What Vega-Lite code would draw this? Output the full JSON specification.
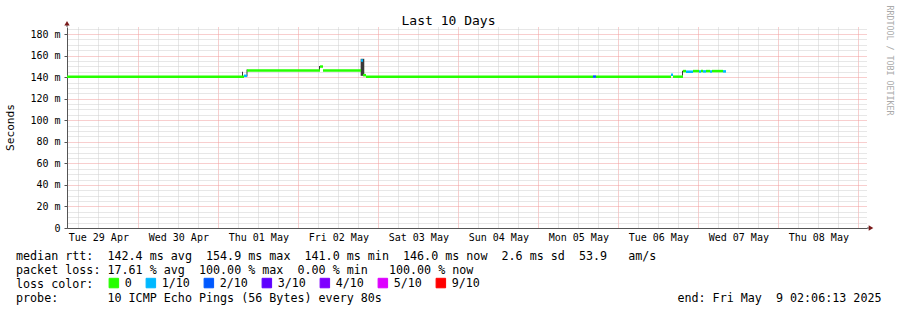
{
  "$schema": "https://vega.github.io/schema/vega-lite/v6.json",
  "width": 800,
  "height": 201,
  "autosize": {"type": "none"},
  "padding": {"left": 67, "top": 27, "right": 30, "bottom": 82},
  "background": "#ffffff",
  "config": {"view": {"stroke": null}, "font": "DejaVu Sans Mono"},
  "title": {
    "text": [
      "median\u00a0rtt:\u00a0\u00a0142.4\u00a0ms\u00a0avg\u00a0\u00a0154.9\u00a0ms\u00a0max\u00a0\u00a0141.0\u00a0ms\u00a0min\u00a0\u00a0146.0\u00a0ms\u00a0now\u00a0\u00a02.6\u00a0ms\u00a0sd\u00a0\u00a053.9\u00a0\u00a0\u00a0am/s",
      "packet\u00a0loss:\u00a017.61\u00a0%\u00a0avg\u00a0\u00a0100.00\u00a0%\u00a0max\u00a0\u00a00.00\u00a0%\u00a0min\u00a0\u00a0\u00a0100.00\u00a0%\u00a0now",
      "loss\u00a0color:",
      "probe:\u00a0\u00a0\u00a0\u00a0\u00a0\u00a0\u00a010\u00a0ICMP\u00a0Echo\u00a0Pings\u00a0(56\u00a0Bytes)\u00a0every\u00a080s\u00a0\u00a0\u00a0\u00a0\u00a0\u00a0\u00a0\u00a0\u00a0\u00a0\u00a0\u00a0\u00a0\u00a0\u00a0\u00a0\u00a0\u00a0\u00a0\u00a0\u00a0\u00a0\u00a0\u00a0\u00a0\u00a0\u00a0\u00a0\u00a0\u00a0\u00a0\u00a0\u00a0\u00a0\u00a0\u00a0\u00a0\u00a0\u00a0\u00a0\u00a0\u00a0end:\u00a0Fri\u00a0May\u00a0\u00a09\u00a002:06:13\u00a02025"
    ],
    "orient": "bottom",
    "anchor": "start",
    "frame": "group",
    "align": "left",
    "dx": -51,
    "baseline": "alphabetic",
    "lineHeight": 14,
    "offset": -30,
    "font": "DejaVu Sans Mono",
    "fontSize": 11.7,
    "fontWeight": "normal",
    "color": "#000000"
  },
  "datasets": {
    "median": [
      {"t0": "2025-04-29T02:36:00Z", "t1": "2025-05-01T07:42:00Z", "rtt": 140.4, "loss": "0"},
      {"t0": "2025-05-01T07:42:00Z", "t1": "2025-05-01T08:36:00Z", "rtt": 141.2, "loss": "1/10"},
      {"t0": "2025-05-01T08:36:00Z", "t1": "2025-05-02T06:30:00Z", "rtt": 146.1, "loss": "0"},
      {"t0": "2025-05-02T06:30:00Z", "t1": "2025-05-02T07:24:00Z", "rtt": 149.8, "loss": "0"},
      {"t0": "2025-05-02T07:24:00Z", "t1": "2025-05-02T18:48:00Z", "rtt": 146.1, "loss": "0"},
      {"t0": "2025-05-02T18:48:00Z", "t1": "2025-05-02T19:24:00Z", "rtt": 155.4, "loss": "1/10"},
      {"t0": "2025-05-02T19:24:00Z", "t1": "2025-05-02T20:18:00Z", "rtt": 141.8, "loss": "0"},
      {"t0": "2025-05-02T20:18:00Z", "t1": "2025-05-05T16:24:00Z", "rtt": 140.4, "loss": "0"},
      {"t0": "2025-05-05T16:24:00Z", "t1": "2025-05-05T17:18:00Z", "rtt": 140.5, "loss": "2/10"},
      {"t0": "2025-05-05T17:18:00Z", "t1": "2025-05-06T15:48:00Z", "rtt": 140.4, "loss": "0"},
      {"t0": "2025-05-06T15:48:00Z", "t1": "2025-05-06T16:24:00Z", "rtt": 142.3, "loss": "1/10"},
      {"t0": "2025-05-06T16:24:00Z", "t1": "2025-05-06T19:24:00Z", "rtt": 140.4, "loss": "0"},
      {"t0": "2025-05-06T19:24:00Z", "t1": "2025-05-06T20:18:00Z", "rtt": 145.6, "loss": "0"},
      {"t0": "2025-05-06T20:18:00Z", "t1": "2025-05-06T22:24:00Z", "rtt": 145.0, "loss": "1/10"},
      {"t0": "2025-05-06T22:24:00Z", "t1": "2025-05-07T00:12:00Z", "rtt": 145.6, "loss": "0"},
      {"t0": "2025-05-07T00:12:00Z", "t1": "2025-05-07T00:48:00Z", "rtt": 145.3, "loss": "1/10"},
      {"t0": "2025-05-07T00:48:00Z", "t1": "2025-05-07T01:24:00Z", "rtt": 145.6, "loss": "0"},
      {"t0": "2025-05-07T01:24:00Z", "t1": "2025-05-07T02:18:00Z", "rtt": 145.3, "loss": "1/10"},
      {"t0": "2025-05-07T02:18:00Z", "t1": "2025-05-07T03:30:00Z", "rtt": 145.6, "loss": "0"},
      {"t0": "2025-05-07T03:30:00Z", "t1": "2025-05-07T04:06:00Z", "rtt": 145.3, "loss": "1/10"},
      {"t0": "2025-05-07T04:06:00Z", "t1": "2025-05-07T07:24:00Z", "rtt": 145.6, "loss": "0"},
      {"t0": "2025-05-07T07:24:00Z", "t1": "2025-05-07T08:18:00Z", "rtt": 145.3, "loss": "1/10"}
    ],
    "smoke": [
      {"t0": "2025-05-01T07:06:00Z", "t1": "2025-05-01T07:24:00Z", "lo": 140.4, "hi": 145.0},
      {"t0": "2025-05-01T08:27:00Z", "t1": "2025-05-01T08:45:00Z", "lo": 140.5, "hi": 147.0},
      {"t0": "2025-05-02T06:12:00Z", "t1": "2025-05-02T06:30:00Z", "lo": 146.0, "hi": 150.3},
      {"t0": "2025-05-02T18:42:00Z", "t1": "2025-05-02T19:47:00Z", "lo": 141.2, "hi": 157.0},
      {"t0": "2025-05-06T19:06:00Z", "t1": "2025-05-06T19:24:00Z", "lo": 141.2, "hi": 146.0}
    ]
  },
  "layer": [
    {
      "data": {"name": "smoke"},
      "mark": {"type": "rect", "fill": "#3a3a3a"},
      "encoding": {
        "x": {"field": "t0", "type": "temporal", "scale": {"type": "utc"}, "axis": null},
        "x2": {"field": "t1"},
        "y": {
          "field": "lo",
          "type": "quantitative",
          "axis": {
            "orient": "right",
            "labels": false,
            "ticks": false,
            "domain": false,
            "grid": false,
            "title": "RRDTOOL / TOBI OETIKER",
            "titleAngle": 90,
            "titleX": 21,
            "titleY": 33,
            "titleAlign": "center",
            "titleBaseline": "middle",
            "titleFont": "DejaVu Sans Mono",
            "titleFontSize": 8.3,
            "titleFontWeight": "normal",
            "titleColor": "#aaaaaa"
          }
        },
        "y2": {"field": "hi"}
      }
    },
    {
      "data": {"name": "median"},
      "mark": {"type": "rule", "strokeWidth": 2.5},
      "encoding": {
        "x": {
          "field": "t0",
          "type": "temporal",
          "scale": {
            "type": "utc",
            "domain": [
              {"year": 2025, "month": 4, "date": 29, "hours": 2, "minutes": 36, "utc": true},
              {"year": 2025, "month": 5, "date": 9, "hours": 2, "minutes": 36, "utc": true}
            ]
          },
          "axis": {
            "orient": "bottom",
            "values": [1745906400000, 1745928000000, 1745949600000, 1745971200000, 1745992800000, 1746014400000, 1746036000000, 1746057600000, 1746079200000, 1746100800000, 1746122400000, 1746144000000, 1746165600000, 1746187200000, 1746208800000, 1746230400000, 1746252000000, 1746273600000, 1746295200000, 1746316800000, 1746338400000, 1746360000000, 1746381600000, 1746403200000, 1746424800000, 1746446400000, 1746468000000, 1746489600000, 1746511200000, 1746532800000, 1746554400000, 1746576000000, 1746597600000, 1746619200000, 1746640800000, 1746662400000, 1746684000000, 1746705600000, 1746727200000, 1746748800000],
            "grid": true,
            "gridColor": {"condition": {"test": "utchours(datum.value) == 0", "value": "#f09c9c"}, "value": "#cfcfcf"},
            "gridDash": [1, 1],
            "gridWidth": 1,
            "ticks": false,
            "domain": true,
            "domainColor": "#555555",
            "labelExpr": "utchours(datum.value) == 12 ? utcFormat(datum.value, '%a %d %b') : ''",
            "labelFont": "DejaVu Sans Mono",
            "labelFontSize": 10,
            "labelColor": "#000000",
            "labelPadding": 4,
            "labelOverlap": false,
            "labelFlush": false,
            "labelBound": false,
            "title": null
          }
        },
        "x2": {"field": "t1"},
        "y": {
          "field": "rtt",
          "type": "quantitative",
          "scale": {"domain": [0, 186.5], "nice": false, "zero": true},
          "axis": {
            "orient": "left",
            "values": [0, 5, 10, 15, 20, 25, 30, 35, 40, 45, 50, 55, 60, 65, 70, 75, 80, 85, 90, 95, 100, 105, 110, 115, 120, 125, 130, 135, 140, 145, 150, 155, 160, 165, 170, 175, 180, 185],
            "grid": true,
            "gridColor": {"condition": {"test": "datum.value % 20 == 0", "value": "#f09c9c"}, "value": "#cfcfcf"},
            "gridDash": [1, 1],
            "gridWidth": 1,
            "ticks": true,
            "tickSize": 3,
            "tickColor": "#555555",
            "tickOpacity": {"condition": {"test": "datum.value % 20 == 0", "value": 1}, "value": 0},
            "domain": true,
            "domainColor": "#555555",
            "labelExpr": "datum.value == 0 ? '0' : (datum.value % 20 == 0 ? datum.value + ' m' : '')",
            "labelFont": "DejaVu Sans Mono",
            "labelFontSize": 10,
            "labelColor": "#000000",
            "labelPadding": 4,
            "labelOverlap": false,
            "labelBound": false,
            "title": "Seconds",
            "titleFont": "DejaVu Sans Mono",
            "titleFontSize": 11.2,
            "titleFontWeight": "normal",
            "titleColor": "#000000",
            "titleAngle": 270,
            "titleX": -57,
            "titleY": 100,
            "titleAlign": "center",
            "titleBaseline": "middle"
          }
        },
        "color": {
          "field": "loss",
          "type": "nominal",
          "scale": {
            "domain": ["0", "1/10", "2/10", "3/10", "4/10", "5/10", "9/10"],
            "range": ["#26ff00", "#00b8ff", "#0059ff", "#5e00ff", "#7e00ff", "#dd00ff", "#ff0000"]
          },
          "legend": {
            "orient": "none",
            "legendX": 41,
            "legendY": 250,
            "direction": "horizontal",
            "columns": 7,
            "title": null,
            "symbolType": "square",
            "symbolSize": 90,
            "symbolStrokeColor": "#000000",
            "symbolStrokeWidth": 1,
            "labelFont": "DejaVu Sans Mono",
            "labelFontSize": 11.7,
            "labelColor": "#000000",
            "labelOffset": 5,
            "columnPadding": 12,
            "padding": 0,
            "offset": 0,
            "encode": {
              "symbols": {
                "update": {
                  "fill": {"scale": "color", "field": "value"},
                  "stroke": {"value": "#000000"},
                  "strokeWidth": {"value": 1},
                  "opacity": {"value": 1}
                }
              }
            }
          }
        }
      }
    },
    {
      "data": {"values": [{}]},
      "mark": {"type": "rule", "color": "#555555"},
      "encoding": {
        "x": {"datum": {"year": 2025, "month": 4, "date": 29, "hours": 2, "minutes": 36, "utc": true}, "type": "temporal", "scale": {"type": "utc"}, "axis": null},
        "y": {"datum": 186.5, "type": "quantitative", "axis": null},
        "y2": {"datum": 189.5}
      }
    },
    {
      "data": {"values": [{}]},
      "mark": {"type": "rule", "color": "#555555"},
      "encoding": {
        "x": {"datum": {"year": 2025, "month": 5, "date": 9, "hours": 2, "minutes": 36, "utc": true}, "type": "temporal", "scale": {"type": "utc"}, "axis": null},
        "x2": {"datum": {"year": 2025, "month": 5, "date": 9, "hours": 3, "minutes": 36, "utc": true}},
        "y": {"datum": 0, "type": "quantitative", "axis": null}
      }
    },
    {
      "data": {"values": [{}]},
      "mark": {"type": "point", "shape": "triangle-up", "filled": true, "size": 28, "color": "#7a1a1a", "opacity": 1},
      "encoding": {
        "x": {
          "datum": {"year": 2025, "month": 4, "date": 29, "hours": 2, "minutes": 36, "utc": true},
          "type": "temporal",
          "scale": {"type": "utc"},
          "axis": {
            "orient": "top",
            "labels": false,
            "ticks": false,
            "domain": false,
            "grid": false,
            "title": "Last 10 Days",
            "titleX": 381,
            "titleY": -2.5,
            "titleAlign": "center",
            "titleAnchor": "middle",
            "titleBaseline": "alphabetic",
            "titleFont": "DejaVu Sans Mono",
            "titleFontSize": 13,
            "titleFontWeight": "normal",
            "titleColor": "#000000"
          }
        },
        "y": {"datum": 190, "type": "quantitative", "axis": null}
      }
    },
    {
      "data": {"values": [{}]},
      "mark": {"type": "point", "shape": "triangle-right", "filled": true, "size": 28, "color": "#7a1a1a", "opacity": 1},
      "encoding": {
        "x": {"datum": {"year": 2025, "month": 5, "date": 9, "hours": 3, "minutes": 48, "utc": true}, "type": "temporal", "scale": {"type": "utc"}, "axis": null},
        "y": {"datum": 0, "type": "quantitative", "axis": null}
      }
    }
  ],
  "resolve": {"axis": {"x": "independent", "y": "independent"}}
}
